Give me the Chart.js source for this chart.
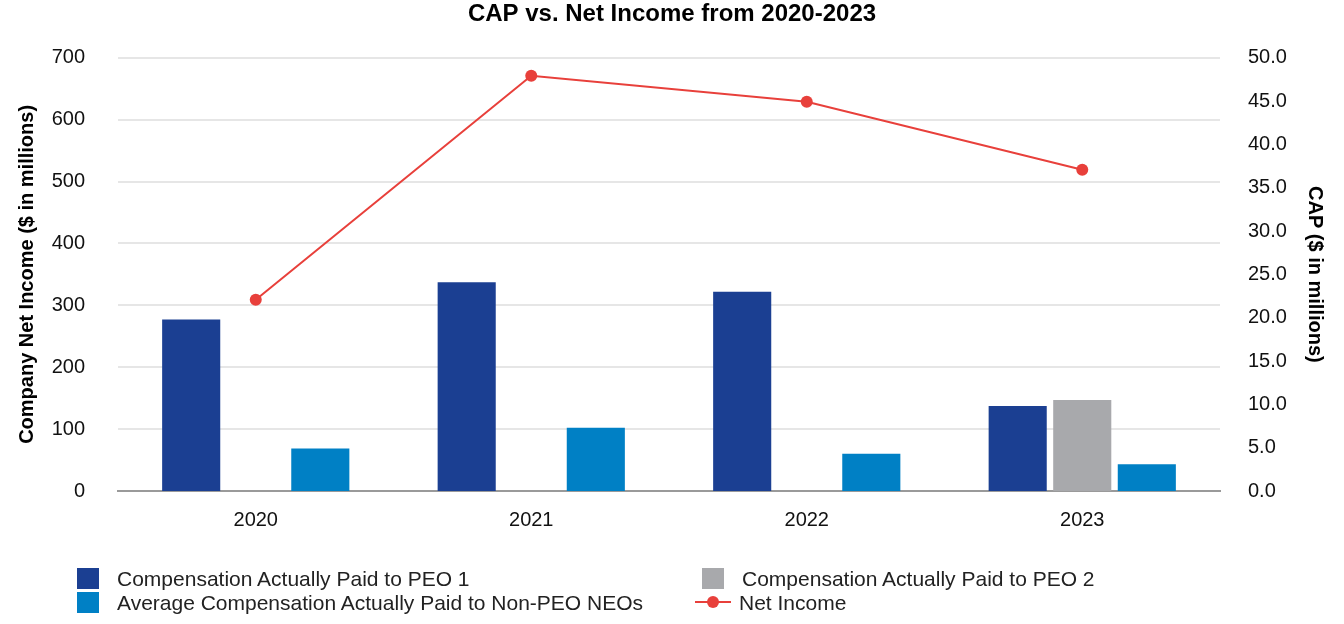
<!DOCTYPE html>
<html>
<head>
<meta charset="utf-8">
<title>CAP vs. Net Income from 2020-2023</title>
<script src="https://cdn.jsdelivr.net/npm/chart.js@4.4.0/dist/chart.umd.min.js"></script>
<style>
    body { margin: 0; background: #fff; font-family: "Liberation Sans", Arial, sans-serif; }
    #wrap { position: relative; width: 1344px; height: 624px; }
    #legend { position: absolute; left: 77px; top: 568px; display: grid;
              grid-template-columns: 625px 600px; row-gap: 3px; }
    .item { display: flex; align-items: center; height: 21px; font-size: 21px; color: #222; }
    .sw { width: 22px; height: 21px; margin-right: 18px; flex: none; }
    .ln { width: 36px; height: 21px; margin-right: 8px; position: relative; flex: none; margin-left: -7px; }
    .ln:before { content: ""; position: absolute; left: 0; right: 0; top: 9px; height: 2px; background: #e8403b; }
    .ln:after { content: ""; position: absolute; left: 12px; top: 4px; width: 12px; height: 12px; border-radius: 6px; background: #e8403b; }
</style>
</head>
<body>
<div id="wrap">
    <canvas id="myChart"></canvas>
    <div id="legend"></div>
</div>
<script>
var years = ['2020', '2021', '2022', '2023'];

// CAP, $ in millions (right axis)
var capPeo1 = [19.8, 24.1, 23.0, 9.8];
var capPeo2 = [null, null, null, 10.5];
var capNonPeo = [4.9, 7.3, 4.3, 3.1];

// Company net income, $ in millions (left axis)
var netIncome = [309, 671, 629, 519];

var colPeo1 = '#1b3f92';
var colPeo2 = '#a8a9ac';
var colNonPeo = '#0080c5';
var colLine = '#e8403b';

function DrawChart() {
    var ctx = document.getElementById('myChart').getContext('2d');

    Chart.defaults.font.family = '"Liberation Sans", Arial, sans-serif';
    Chart.defaults.color = '#111';

    var myChart = new Chart(ctx, {
        type: 'bar',
        data: {
            labels: years,
            datasets: [{
                type: 'line',
                label: 'Net Income',
                data: netIncome,
                yAxisID: 'y',
                borderColor: colLine,
                backgroundColor: colLine,
                borderWidth: 2,
                pointRadius: 6,
                pointHoverRadius: 6,
                pointBorderWidth: 0,
                tension: 0,
                order: 0
            }, {
                label: 'Compensation Actually Paid to PEO 1',
                data: capPeo1,
                yAxisID: 'y2',
                backgroundColor: colPeo1,
                order: 1
            }, {
                label: 'Compensation Actually Paid to PEO 2',
                data: capPeo2,
                yAxisID: 'y2',
                backgroundColor: colPeo2,
                order: 1
            }, {
                label: 'Average Compensation Actually Paid to Non-PEO NEOs',
                data: capNonPeo,
                yAxisID: 'y2',
                backgroundColor: colNonPeo,
                order: 1
            }]
        },
        options: {
            responsive: true,
            maintainAspectRatio: false,
            animation: false,
            datasets: {
                bar: { categoryPercentage: 0.703, barPercentage: 0.9 }
            },
            layout: { padding: { left: 10, right: 10, top: 0, bottom: 83 } },
            plugins: {
                legend: { display: false },
                tooltip: { enabled: false },
                title: {
                    display: true,
                    text: 'CAP vs. Net Income from 2020-2023',
                    font: { size: 24, weight: 'bold' },
                    color: '#000',
                    padding: { top: 0, bottom: 29 }
                }
            },
            scales: {
                x: {
                    grid: { display: false },
                    border: { display: true, color: '#9a9a9a', width: 2 },
                    ticks: { font: { size: 20 }, padding: 9, color: '#111' }
                },
                y: {
                    position: 'left',
                    min: 0,
                    max: 700,
                    afterFit: function (s) { s.width = 108; },
                    ticks: { stepSize: 100, font: { size: 20 }, padding: 33, color: '#111' },
                    grid: { color: '#e6e6e6', lineWidth: 2, drawTicks: false },
                    border: { display: false },
                    title: {
                        display: true,
                        text: 'Company Net Income ($ in millions)',
                        font: { size: 20, weight: 'bold' },
                        color: '#000',
                        padding: { top: 5, bottom: 0 }
                    }
                },
                y2: {
                    position: 'right',
                    min: 0,
                    max: 50,
                    afterFit: function (s) { s.width = 114; },
                    ticks: {
                        stepSize: 5,
                        font: { size: 20 },
                        padding: 28,
                        color: '#111',
                        callback: function (v) { return v.toFixed(1); }
                    },
                    grid: { display: false, drawTicks: false },
                    border: { display: false },
                    title: {
                        display: true,
                        text: 'CAP ($ in millions)',
                        font: { size: 20, weight: 'bold' },
                        color: '#000',
                        padding: { top: 7, bottom: 0 }
                    }
                }
            }
        }
    });

    // legend laid out in two columns like the original
    var ds = myChart.data.datasets;
    var order = [1, 2, 3, 0];
    var html = '';
    order.forEach(function (i) {
        var d = ds[i];
        var mark = d.type === 'line'
            ? '<span class="ln"></span>'
            : '<span class="sw" style="background:' + d.backgroundColor + '"></span>';
        html += '<div class="item">' + mark + '<span>' + d.label + '</span></div>';
    });
    document.getElementById('legend').innerHTML = html;
}

DrawChart();
</script>
</body>
</html>
